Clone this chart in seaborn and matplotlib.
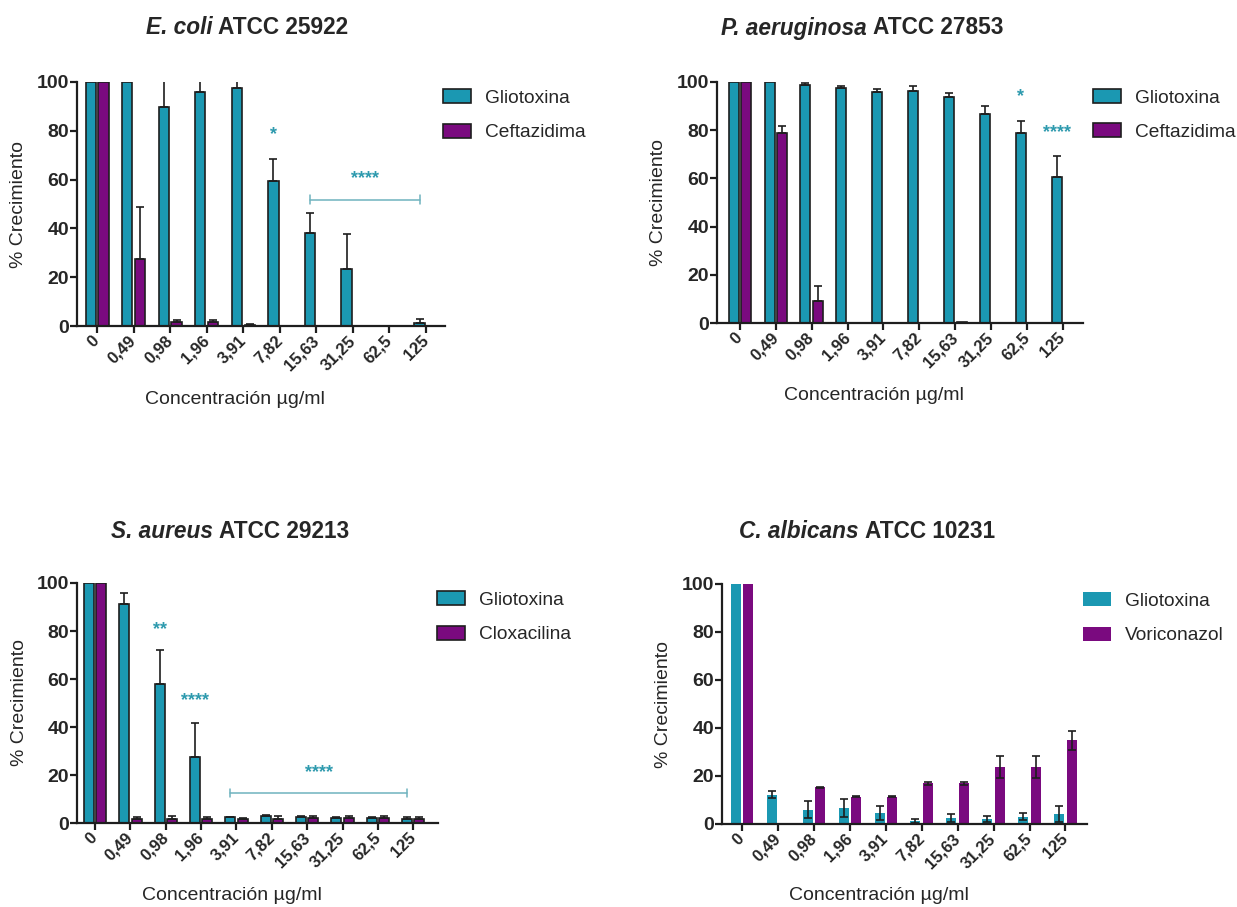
import numpy as np
import pandas as pd
import matplotlib
matplotlib.use("Agg")
import matplotlib.pyplot as plt
import seaborn as sns

sns.set_theme(style="white")
plt.rcParams["font.family"] = ["Liberation Sans", "DejaVu Sans"]

# ---- data ----
conc_labels = ["0", "0,49", "0,98", "1,96", "3,91", "7,82", "15,63", "31,25", "62,5", "125"]

ecoli_glio = [100, 100, 89.8, 95.9, 97.5, 59.4, 38.0, 23.5, 0.2, 1.4]
ecoli_glio_sd = [0, 0, 12.0, 5.0, 3.0, 8.9, 8.3, 14.1, 0, 1.3]
ecoli_ceft = [100, 27.3, 1.5, 1.5, 0.6, 0.2, 0.1, 0.1, 0.2, 0.0]
ecoli_ceft_sd = [0, 21.5, 0.8, 0.8, 0.3, 0, 0, 0, 0, 0]

paer_glio = [100, 100, 98.9, 97.7, 95.9, 96.1, 93.8, 86.8, 78.8, 60.4]
paer_glio_sd = [0, 0, 0.7, 0.6, 1.1, 2.2, 1.6, 3.4, 5.2, 9.0]
paer_ceft = [100, 78.8, 9.1, 0.1, 0.1, 0.2, 0.3, 0.2, 0.1, 0.1]
paer_ceft_sd = [0, 2.9, 6.1, 0, 0, 0, 0, 0, 0, 0]

saur_glio = [100, 91.4, 58.0, 27.7, 2.4, 2.8, 2.4, 2.0, 2.0, 1.8]
saur_glio_sd = [0, 4.6, 13.9, 14.1, 0.3, 0.4, 0.4, 0.7, 0.7, 0.7]
saur_clox = [100, 1.7, 1.8, 1.8, 1.6, 1.8, 2.0, 1.9, 2.0, 1.8]
saur_clox_sd = [0, 0.9, 1.0, 0.9, 0.4, 1.0, 0.8, 0.9, 1.0, 0.6]

calb_glio = [100, 12.2, 6.0, 6.7, 4.6, 1.4, 2.5, 2.1, 3.1, 4.2]
calb_glio_sd = [0, 1.4, 3.4, 3.8, 2.8, 0.8, 1.8, 1.1, 1.6, 3.2]
calb_vori = [100, 0, 15.3, 11.4, 11.4, 16.9, 16.9, 23.6, 23.6, 34.8]
calb_vori_sd = [0, 0, 0.2, 0.3, 0.2, 0.6, 0.6, 4.6, 4.6, 3.8]

# significance marks: (label, group index, y value)
ecoli_sig = [("*", 5, 78.5)]
paer_sig = [("*", 8, 94.0), ("****", 9, 79.0)]
saur_sig = [("**", 2, 80.7), ("****", 3, 51.2)]
calb_sig = []
# bracket: (first group, last group, y value, label)
ecoli_bracket = (6, 9, 51.8, "****")
saur_bracket = (4, 9, 12.6, "****")

TEAL = "#1B98B2"
PURPLE = "#7A0A7F"
SIG = "#2E9AAE"
BRACKET = "#6FB3BE"
INK = "#1E1E1E"

W, H = 1237, 907
fig = plt.figure(figsize=(W / 100, H / 100), dpi=100)


def px_axes(left, right, top, bottom):
    return fig.add_axes([left / W, 1 - bottom / H, (right - left) / W, (bottom - top) / H])


def panel(ax, glio, glio_sd, other, other_sd, other_name, xlim, legend_x,
          legend_y, edged=True, symmetric=False, sig=(), bracket=None):
    df = pd.DataFrame({
        "Concentración": conc_labels * 2,
        "Crecimiento": list(glio) + list(other),
        "Tratamiento": ["Gliotoxina"] * len(glio) + [other_name] * len(other),
    })
    sns.barplot(data=df, x="Concentración", y="Crecimiento", hue="Tratamiento",
                order=conc_labels, hue_order=["Gliotoxina", other_name],
                palette=[TEAL, PURPLE], width=0.7, gap=0.2, errorbar=None,
                edgecolor=INK, linewidth=1.2 if edged else 0, saturation=1,
                legend=False, ax=ax)
    for cont, sd in zip(ax.containers[:2], [glio_sd, other_sd]):
        xs, ys, es = [], [], []
        for p, s in zip(cont.patches, sd):
            if s > 0:
                xs.append(p.get_x() + p.get_width() / 2)
                ys.append(p.get_height())
                es.append(s)
        if not xs:
            continue
        es = np.array(es)
        yerr = es if symmetric else [np.zeros_like(es), es]
        ax.errorbar(xs, ys, yerr=yerr, fmt="none", ecolor=INK, elinewidth=1.2,
                    capsize=2.6, capthick=1.2, zorder=4)

    teal_x = [p.get_x() + p.get_width() / 2 for p in ax.containers[0].patches]
    for lab, i, y in sig:
        ax.text(teal_x[i], y, lab, color=SIG, fontsize=13, fontweight="bold",
                ha="center", va="center")
    if bracket is not None:
        i0, i1, y, lab = bracket
        x0, x1 = teal_x[i0], teal_x[i1]
        ax.plot([x0, x1], [y, y], color=BRACKET, lw=1.1)
        for xe in (x0, x1):
            ax.plot([xe, xe], [y - 1.7, y + 1.7], color=BRACKET, lw=1.1)
        ax.text((x0 + x1) / 2, y + 8.5, lab, color=SIG, fontsize=13,
                fontweight="bold", ha="center", va="center")

    ax.set_xlim(*xlim)
    ax.set_ylim(0, 100)
    ax.set_yticks([0, 20, 40, 60, 80, 100])
    for s in ("top", "right"):
        ax.spines[s].set_visible(False)
    for s in ("left", "bottom"):
        ax.spines[s].set_color(INK)
        ax.spines[s].set_linewidth(1.6)
    ax.tick_params(axis="both", direction="out", length=5, width=1.6,
                   color=INK, left=True, bottom=True)
    ax.tick_params(axis="y", labelsize=14, pad=0.5)
    ax.tick_params(axis="x", labelsize=12, pad=4)
    for t in ax.get_yticklabels():
        t.set_fontweight("bold")
    for t in ax.get_xticklabels():
        t.set_fontweight("bold")
        t.set_rotation(45)
        t.set_ha("right")
        t.set_va("center")
        t.set_rotation_mode("anchor")
    ax.set_ylabel("% Crecimiento", fontsize=14, va="center")
    ax.yaxis.set_label_coords(-0.16, 0.5)
    ax.set_xlabel("Concentración µg/ml", fontsize=14, va="center")
    ax.xaxis.set_label_coords(0.43, -0.30)

    ax.legend(ax.containers[:2], ["Gliotoxina", other_name],
              loc="upper left", bbox_to_anchor=(legend_x, legend_y),
              frameon=False, fontsize=13.8, handlelength=1.45,
              handleheight=0.75, handletextpad=0.73, labelspacing=0.86,
              borderaxespad=0, borderpad=0)
    return ax


def title(cx, cy, italic_part, rest):
    renderer = fig.canvas.get_renderer()
    kw = dict(fontsize=16.3, fontweight="bold", va="center", ha="left")
    t1 = fig.text(0, 0, italic_part + " ", style="italic", **kw)
    t2 = fig.text(0, 0, rest, **kw)
    w1 = t1.get_window_extent(renderer).width
    w2 = t2.get_window_extent(renderer).width
    x0 = cx - (w1 + w2) / 2
    t1.set_position((x0 / W, 1 - cy / H))
    t2.set_position(((x0 + w1) / W, 1 - cy / H))


ax1 = px_axes(77, 445, 82, 326)
panel(ax1, ecoli_glio, ecoli_glio_sd, ecoli_ceft, ecoli_ceft_sd, "Ceftazidima",
      (-0.55, 9.52), 0.995, 0.97, sig=ecoli_sig, bracket=ecoli_bracket)
ax2 = px_axes(717, 1083, 82, 323)
panel(ax2, paer_glio, paer_glio_sd, paer_ceft, paer_ceft_sd, "Ceftazidima",
      (-0.64, 9.56), 1.027, 0.97, sig=paer_sig)
ax3 = px_axes(77, 438, 583, 823)
panel(ax3, saur_glio, saur_glio_sd, saur_clox, saur_clox_sd, "Cloxacilina",
      (-0.51, 9.7), 0.997, 0.965, sig=saur_sig, bracket=saur_bracket)
ax4 = px_axes(722, 1087, 584, 824)
panel(ax4, calb_glio, calb_glio_sd, calb_vori, calb_vori_sd, "Voriconazol",
      (-0.56, 9.6), 0.989, 0.965, edged=False, symmetric=True, sig=calb_sig)

title(247, 28, "E. coli", "ATCC 25922")
title(862, 28, "P. aeruginosa", "ATCC 27853")
title(230, 531, "S. aureus", "ATCC 29213")
title(867, 532, "C. albicans", "ATCC 10231")

fig.savefig("out.png", dpi=100, facecolor="white")
